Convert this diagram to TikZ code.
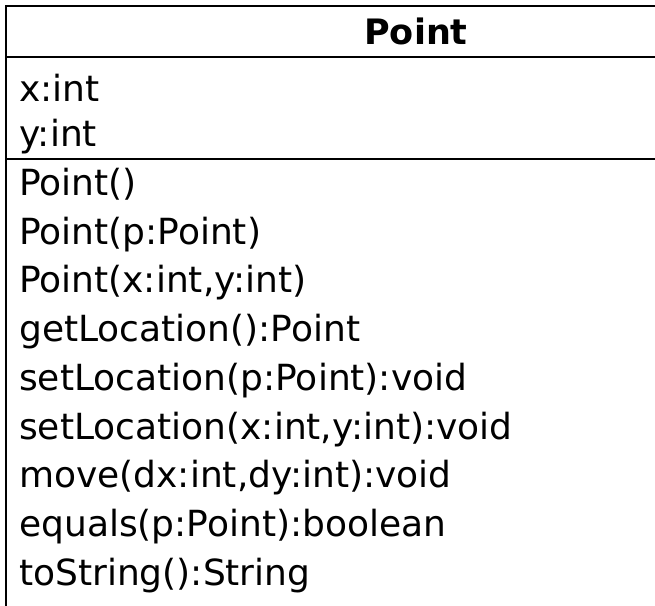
\documentclass[tikz,border=0pt]{standalone}
\usepackage{fontspec}
\setmainfont{DejaVu Sans}
\tikzset{
  member/.style={anchor=base west, inner sep=0pt, font=\fontsize{36}{42}\selectfont},
  titletext/.style={anchor=base, inner sep=0pt, font=\fontsize{35}{41}\selectfont\bfseries},
  umlline/.style={line width=2.4pt, black}
}
\begin{document}
\begin{tikzpicture}[x=1pt, y=-1pt]
\useasboundingbox (0,0) rectangle (655,605);
% box edges (cropped on right and bottom)
\draw[umlline] (6,610) -- (6,6) -- (660,6);
\draw[umlline] (6,57) -- (660,57);
\draw[umlline] (6,159) -- (660,159);
% title
\node[titletext] (title) at (416,44) {Point};
% attributes
\node[member] (ax) at (19,101) {x:int};
\node[member] (ay) at (19,146) {y:int};
% methods
\node[member] (m1) at (19,195) {Point()};
\node[member] (m2) at (19,244) {Point(p:Point)};
\node[member] (m3) at (19,292) {Point(x:int,y:int)};
\node[member] (m4) at (19,341) {getLocation():Point};
\node[member] (m5) at (19,390) {setLocation(p:Point):void};
\node[member] (m6) at (19,439) {setLocation(x:int,y:int):void};
\node[member] (m7) at (19,487) {move(dx:int,dy:int):void};
\node[member] (m8) at (19,536) {equals(p:Point):boolean};
\node[member] (m9) at (19,585) {toString():String};
\end{tikzpicture}
\end{document}
